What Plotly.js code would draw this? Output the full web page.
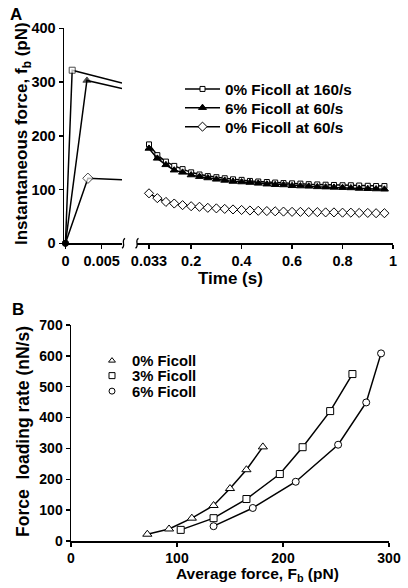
<!DOCTYPE html>
<html>
<head>
<meta charset="utf-8">
<script src="https://cdn.plot.ly/plotly-3.0.1.min.js"></script>
<style>
html,body{margin:0;padding:0;background:#ffffff;}
#chart{width:408px;height:588px;}
</style>
</head>
<body>
<div id="chart"></div>
<script>
// ---------- Panel A data ----------
const seriesNamesA = ['0% Ficoll at 160/s', '6% Ficoll at 60/s', '0% Ficoll at 60/s'];
// loading phase (left, expanded time axis): start, peak, continuation to axis break
const loadTime160 = [0, 0.00093, 0.0078];
const loadForce160 = [0, 322, 298];
const loadTime6pct60 = [0, 0.00296, 0.0078];
const loadForce6pct60 = [0, 303, 288];
const loadTime0pct60 = [0, 0.0031, 0.0078];
const loadForce0pct60 = [0, 121, 118];
// relaxation phase (right axis)
const relaxTime = [0.033, 0.066, 0.1, 0.133, 0.166, 0.2, 0.233, 0.266, 0.3, 0.333,
                   0.366, 0.4, 0.433, 0.466, 0.5, 0.533, 0.566, 0.6, 0.633, 0.666,
                   0.7, 0.733, 0.766, 0.8, 0.833, 0.866, 0.9, 0.933, 0.966];
const relaxForce160 = [184, 164, 152, 144, 138, 132, 128, 125, 123, 121,
                       119, 118, 116, 115, 114, 113, 112, 111.5, 111, 110,
                       109.5, 109, 108.5, 108, 108, 107.5, 107, 106.5, 106.5];
const relaxForce6pct60 = [176.5, 158, 146, 136, 132, 127, 124, 121.5, 119, 117,
                          115, 114, 113, 111.5, 110, 109, 108.5, 107, 106.5, 106,
                          105, 104.5, 104, 103.5, 103, 102, 101.5, 101, 100.5];
const relaxForce0pct60 = [93, 84, 77, 74, 71, 69, 68, 66, 65, 64,
                          63, 62, 61, 60.5, 60, 59.5, 59, 58.5, 58.5, 58,
                          58, 57.5, 57.5, 57, 57, 56.5, 56.5, 56, 56];
const leftTickVals = [0, 0.005];
const leftTickText = ['0', '0.005'];
const rightTickVals = [0.033, 0.2, 0.4, 0.6, 0.8, 1];
const rightTickText = ['0.033', '0.2', '0.4', '0.6', '0.8', '1'];
const yTickValsA = [0, 100, 200, 300, 400];

// ---------- Panel B data ----------
const seriesNamesB = ['0% Ficoll', '3% Ficoll', '6% Ficoll'];
const avgForce0 = [72, 92.5, 114, 134.5, 150, 165.5, 181];
const rate0 = [22, 39, 74, 115, 170, 231, 305];
const avgForce3 = [103.5, 134.5, 165.5, 197, 218.5, 244.5, 265.5];
const rate3 = [36, 74, 136, 217, 304, 421, 541];
const avgForce6 = [134.5, 171.5, 212, 252, 278.5, 292.5];
const rate6 = [48, 107, 192, 312, 449, 608];
const xTickValsB = [0, 100, 200, 300];
const yTickValsB = [0, 100, 200, 300, 400, 500, 600, 700];

// ---------- helpers (pixel -> paper) ----------
const W = 408, H = 588;
const px = v => v / W;
const py = v => 1 - v / H;
const FONT = 'Liberation Sans, Arial, Helvetica, sans-serif';
const BLACK = '#000000';
const bold = s => '<b>' + s + '</b>';

const lineStyle = {color: BLACK, width: 1.5};

function loadTrace(x, y, sym, size, fill) {
  return {
    type: 'scatter', mode: 'lines+markers', x: x, y: y, xaxis: 'x', yaxis: 'y',
    showlegend: false, cliponaxis: false, hoverinfo: 'skip',
    line: lineStyle,
    marker: {symbol: ['circle', sym, 'circle'], size: [6, size, 0],
             color: [BLACK, fill, BLACK], line: {color: BLACK, width: 1}}
  };
}
function relaxTrace(y, name, sym, size, fill, leg) {
  return {
    type: 'scatter', mode: 'lines+markers', x: relaxTime, y: y, xaxis: 'x2', yaxis: 'y',
    name: bold(name), legend: leg, cliponaxis: false, hoverinfo: 'skip',
    line: lineStyle,
    marker: {symbol: sym, size: size, color: fill, line: {color: BLACK, width: 1}}
  };
}
function bTrace(x, y, name, sym, size) {
  return {
    type: 'scatter', mode: 'lines+markers', x: x, y: y, xaxis: 'x3', yaxis: 'y3',
    name: name, showlegend: false, cliponaxis: false, hoverinfo: 'skip',
    line: lineStyle,
    marker: {symbol: sym, size: size, color: '#ffffff', line: {color: BLACK, width: 1}}
  };
}
// legend-only marker entry for panel B (markers without line)
function bLegend(name, sym, leg) {
  return {
    type: 'scatter', mode: 'markers', x: [null], y: [null], xaxis: 'x3', yaxis: 'y3',
    name: bold(name), legend: leg, hoverinfo: 'skip',
    marker: {symbol: sym, size: 6, color: '#ffffff', line: {color: BLACK, width: 1}}
  };
}

const traces = [
  loadTrace(loadTime160, loadForce160, 'square', 6, '#ffffff'),
  loadTrace(loadTime6pct60, loadForce6pct60, 'triangle-up', 7, BLACK),
  loadTrace(loadTime0pct60, loadForce0pct60, 'diamond', 8, '#ffffff'),
  relaxTrace(relaxForce160, seriesNamesA[0], 'square', 5, '#ffffff', 'legend'),
  relaxTrace(relaxForce6pct60, seriesNamesA[1], 'triangle-up', 7, BLACK, 'legend2'),
  relaxTrace(relaxForce0pct60, seriesNamesA[2], 'diamond', 7, '#ffffff', 'legend3'),
  bTrace(avgForce0, rate0, seriesNamesB[0], 'triangle-up', 8),
  bTrace(avgForce3, rate3, seriesNamesB[1], 'square', 7),
  bTrace(avgForce6, rate6, seriesNamesB[2], 'circle', 7),
  bLegend(seriesNamesB[0], 'triangle-up', 'legend4'),
  bLegend(seriesNamesB[1], 'square', 'legend5'),
  bLegend(seriesNamesB[2], 'circle', 'legend6')
];

const tickFont = {family: FONT, size: 14.5, color: BLACK, weight: 'bold'};
function axisBase(extra) {
  return Object.assign({
    showline: true, linecolor: BLACK, linewidth: 1.5,
    ticks: 'outside', ticklen: 4, tickwidth: 1.5, tickcolor: BLACK,
    showgrid: false, zeroline: false, tickfont: tickFont, tickmode: 'array',
    fixedrange: true
  }, extra);
}

function legendAt(xPix, yPix, iw, size) {
  return {x: px(xPix), y: py(yPix), xanchor: 'left', yanchor: 'middle',
          bgcolor: 'rgba(0,0,0,0)', borderwidth: 0, itemwidth: iw,
          font: {family: FONT, size: size, color: BLACK, weight: 'bold'}};
}

// break marks on the time axis (drawn in paper coordinates)
function squiggle(xPix, yPix) {
  const a = (dx, dy) => px(xPix + dx) + ',' + py(yPix + dy);
  return {type: 'path', xref: 'paper', yref: 'paper',
          path: 'M' + a(-1.5, 5) + ' C' + a(3, 2) + ' ' + a(-3, -2) + ' ' + a(1.5, -5),
          line: {color: BLACK, width: 1.2}};
}

const titleFont = {family: FONT, size: 17, color: BLACK, weight: 'bold'};
function ann(text, xPix, yPix, size, angle) {
  return {text: bold(text), xref: 'paper', yref: 'paper', x: px(xPix), y: py(yPix),
          xanchor: 'center', yanchor: 'middle', showarrow: false,
          textangle: angle || 0,
          font: Object.assign({}, titleFont, {size: size})};
}

const layout = {
  width: W, height: H,
  margin: {l: 0, r: 0, t: 0, b: 0},
  paper_bgcolor: '#ffffff', plot_bgcolor: 'rgba(0,0,0,0)',
  font: {family: FONT, color: BLACK, weight: 'bold'},
  showlegend: true,
  xaxis: axisBase({domain: [px(64), px(122)], range: [-0.0002, 0.0078], anchor: 'y',
                   tickvals: leftTickVals, ticktext: leftTickText.map(bold)}),
  xaxis2: axisBase({domain: [px(137), px(393)], range: [-0.0146, 1.0], anchor: 'y',
                    tickvals: rightTickVals, ticktext: rightTickText.map(bold)}),
  yaxis: axisBase({domain: [py(243.3), py(28.3)], range: [0, 400], anchor: 'x',
                   tickvals: yTickValsA, ticktext: yTickValsA.map(v => bold(String(v)))}),
  xaxis3: axisBase({domain: [px(71), px(389)], range: [0, 300], anchor: 'y3',
                    tickvals: xTickValsB, ticktext: xTickValsB.map(v => bold(String(v))),
                    tickfont: Object.assign({}, tickFont, {size: 14})}),
  yaxis3: axisBase({domain: [py(541), py(325)], range: [0, 700], anchor: 'x3',
                    tickvals: yTickValsB, ticktext: yTickValsB.map(v => bold(String(v))),
                    tickfont: Object.assign({}, tickFont, {size: 14})}),
  legend: legendAt(180, 89, 35, 15.3),
  legend2: legendAt(180, 107.7, 35, 15.3),
  legend3: legendAt(180, 126.7, 35, 15.3),
  legend4: legendAt(92, 361, 30, 14.8),
  legend5: legendAt(92, 376, 30, 14.8),
  legend6: legendAt(92, 391.5, 30, 14.8),
  shapes: [squiggle(123.5, 243.3), squiggle(137, 243.3)],
  annotations: [
    ann('A', 16, 14, 17),
    ann('B', 18, 309, 17),
    ann('Instantaneous force, f<sub>b</sub> (pN)', 23, 134, 17, -90),
    ann('Time (s)', 230, 278, 17),
    ann('Force\u00A0 loading rate (nN/s)', 23, 432, 17.5, -90),
    ann('Average force, F<sub>b</sub> (pN)', 257, 574, 15.5)
  ]
};

Plotly.newPlot('chart', traces, layout, {staticPlot: true, displayModeBar: false});
</script>
</body>
</html>
